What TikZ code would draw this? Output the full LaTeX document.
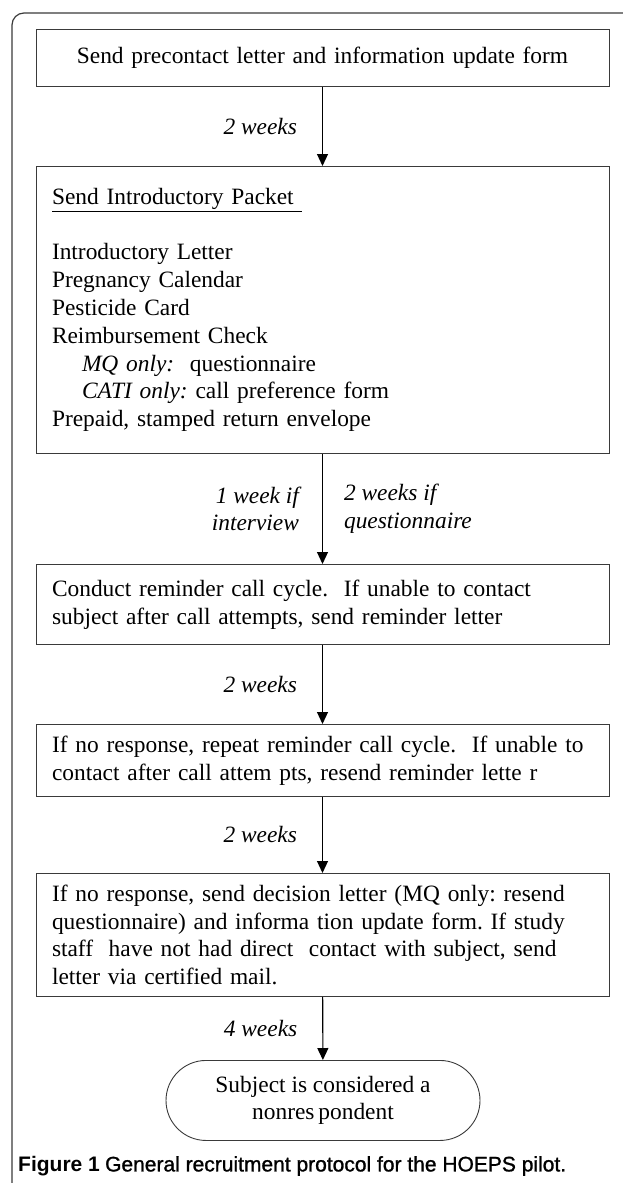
\documentclass[tikz,border=0pt]{standalone}
\usepackage{fontspec}
\setmainfont{Liberation Serif}
\newfontfamily\capfont{Liberation Sans}
\newfontfamily\capsemi{Liberation Sans}[FakeBold=1.2]
\usetikzlibrary{positioning, arrows.meta, calc}
\definecolor{linegray}{HTML}{3A3A3A}

\begin{document}
\begin{tikzpicture}[x=1pt, y=-1pt,
    stage/.style={draw=linegray, line width=0.9pt, text width=541pt, inner xsep=16pt, inner ysep=0pt,
        align=left, anchor=north, font=\fontsize{23.4}{27.8}\selectfont\frenchspacing},
    delay/.style={inner sep=0pt, font=\fontsize{23.4}{27.8}\selectfont\itshape},
    link/.style={-{Triangle[length=12pt,width=11pt]}, line width=1.1pt}]
    \useasboundingbox (0,0) rectangle (622,1183);

    % Outer frame
    \draw[linegray, line width=1.2pt, rounded corners=12pt] (12,1200) -- (12,13) -- (640,13);

    % Steps
    \node[stage, align=center, minimum height=57pt] (precontact) at (322.5,29)
        {Send precontact letter and information update form};
    \node[stage, minimum height=287pt] (packet) at (322.5,166)
        {\underline{Send Introductory Packet\ }\\[27.8pt]
         Introductory Letter\\
         Pregnancy Calendar\\
         Pesticide Card\\
         Reimbursement Check\\
         \hspace*{30pt}\textit{MQ only:}~ questionnaire\\
         \hspace*{30pt}\textit{CATI only:} call preference form\\
         Prepaid, stamped return envelope};
    \node[stage, minimum height=80pt] (reminder) at (322.5,564)
        {Conduct reminder call cycle.~ If unable to contact\\
         subject after call attempts, send reminder letter};
    \node[stage, minimum height=72pt] (repeat) at (322.5,724)
        {If no response, repeat reminder call cycle.~ If unable to\\
         contact after call attem pts, resend reminder lette r};
    \node[stage, minimum height=123pt] (decision) at (322.5,873)
        {If no response, send decision letter (MQ only: resend\\
         questionnaire) and informa tion update form. If study\\
         staff~ have not had direct~ contact with subject, send\\
         letter via certified mail.};
    \node[draw=linegray, line width=0.9pt, rounded corners=40pt, minimum width=314pt, minimum height=80pt,
        anchor=north, align=center, font=\fontsize{23.4}{27.8}\selectfont] (nonresp) at (323,1060)
        {Subject is considered a\\ nonres\,pondent};

    % Delays
    \draw[link] (precontact) -- (packet) node[delay, midway, left=25pt] {2 weeks};
    \draw[link] (packet) -- (reminder)
        node[delay, midway, left=23pt, align=right] {1 week if\\interview}
        node[delay, midway, right=21pt, align=left] {2 weeks if\\questionnaire};
    \draw[link] (reminder) -- (repeat) node[delay, midway, left=25pt] {2 weeks};
    \draw[link] (repeat) -- (decision) node[delay, midway, left=25pt] {2 weeks};
    \draw[link] (decision) -- (nonresp) node[delay, midway, left=25pt] {4 weeks};

    % Caption
    \node[anchor=west, inner sep=0pt, font=\fontsize{21}{25}\selectfont] (caption) at (18,1166)
        {{\capfont\bfseries Figure 1} {\capsemi General recruitment protocol for the HOEPS pilot.}};
\end{tikzpicture}
\end{document}
